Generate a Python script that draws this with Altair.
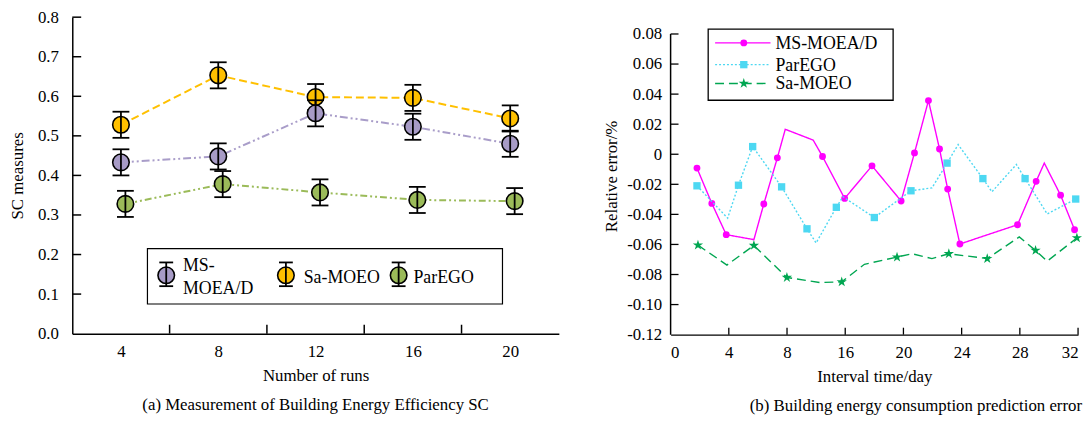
import altair as alt
import pandas as pd

FONT = "Liberation Serif"
FS = 17
LFS = 17

# ---------------- Panel (a) data ----------------
runs = [4, 8, 12, 16, 20]
names_a = ["MS-MOEA/D", "Sa-MOEO", "ParEGO"]
ms_sc = [0.433, 0.448, 0.557, 0.523, 0.480]
sa_sc = [0.528, 0.653, 0.598, 0.596, 0.544]
par_sc = [0.328, 0.378, 0.357, 0.338, 0.335]
ms_err = [0.033, 0.033, 0.033, 0.033, 0.033]
sa_err = [0.033, 0.033, 0.033, 0.033, 0.033]
par_err = [0.033, 0.033, 0.033, 0.033, 0.033]
y_ticks_a = [0.0, 0.1, 0.2, 0.3, 0.4, 0.5, 0.6, 0.7, 0.8]
x_minor_a = [6, 10, 14, 18]

# ---------------- Panel (b) data ----------------
x_labels_b = ["0", "4", "8", "16", "20", "24", "28", "32"]
ms_x = [0.453, 0.708, 0.956, 1.431, 1.601, 1.834, 1.97, 2.45, 2.61, 2.99, 3.46, 3.96,
        4.19, 4.43, 4.62, 4.76, 4.97, 5.96, 6.28, 6.42, 6.70, 6.94]
ms_y = [-0.0092, -0.0327, -0.0535, -0.0568, -0.0331, -0.0024, 0.0166, 0.0094, -0.0015,
        -0.0294, -0.0077, -0.0311, 0.0009, 0.0357, 0.0035, -0.0232, -0.0597, -0.0469,
        -0.018, -0.0059, -0.0272, -0.0502]
ms_mk = [1, 1, 1, 0, 1, 1, 0, 0, 1, 1, 1, 1, 1, 1, 1, 1, 1, 1, 1, 0, 1, 1]
par_x = [0.453, 0.98, 1.166, 1.41, 1.907, 2.343, 2.50, 2.847, 2.96, 3.50, 4.13, 4.49,
         4.75, 4.94, 5.365, 5.52, 5.94, 6.09, 6.47, 6.96]
par_y = [-0.021, -0.0425, -0.0206, 0.0051, -0.0217, -0.0496, -0.059, -0.0353, -0.0283,
         -0.0421, -0.0243, -0.0224, -0.0059, 0.0064, -0.0162, -0.025, -0.0068, -0.0162,
         -0.0397, -0.0298]
par_mk = [1, 0, 1, 1, 1, 1, 0, 1, 0, 1, 1, 0, 1, 0, 1, 0, 0, 1, 0, 1]
sa_x = [0.47, 0.968, 1.431, 1.998, 2.56, 2.94, 3.33, 3.89, 4.15, 4.49, 4.78, 5.44,
        5.99, 6.27, 6.47, 6.98]
sa_y = [-0.0605, -0.0737, -0.0607, -0.082, -0.0853, -0.0849, -0.0732, -0.0684, -0.0662,
        -0.0694, -0.0662, -0.0694, -0.055, -0.064, -0.0711, -0.0557]
sa_mk = [1, 0, 1, 1, 0, 1, 0, 1, 0, 0, 1, 1, 0, 1, 0, 1]
names_b = ["MS-MOEA/D", "ParEGO", "Sa-MOEO"]
y_ticks_b = [-0.12, -0.10, -0.08, -0.06, -0.04, -0.02, 0, 0.02, 0.04, 0.06, 0.08]

one = pd.DataFrame({"d": [0]})

# ================= Panel (a) =================
WA, HA = 492, 320
xs_a = alt.Scale(domain=[2, 22], nice=False, zero=False)
ys_a = alt.Scale(domain=[0, 0.8], nice=False)
xa = alt.Axis(values=runs, ticks=False, grid=False, labelPadding=10, labelOverlap=False,
              labelFont=FONT, labelFontSize=LFS, labelColor="black",
              domainColor="black", domainWidth=1.5, title="Number of runs", titlePadding=8)
ya = alt.Axis(values=y_ticks_a, format=".1f", ticks=False, grid=False, labelPadding=14,
              labelFont=FONT, labelFontSize=LFS, labelColor="black",
              labelOverlap=False, domainColor="black", domainWidth=1.5, title="SC measures",
              titlePadding=11)


def XA(f):
    return alt.X(f, scale=xs_a, axis=xa)


def YA(f):
    return alt.Y(f, scale=ys_a, axis=ya)


series_a = [
    # name, values, errors, line colour, fill colour, dash, x offset
    ("Sa-MOEO", sa_sc, sa_err, "#FFC000", "#FFC000", [8, 4], 0),
    ("MS-MOEA/D", ms_sc, ms_err, "#A99DC9", "#A79BC6", [8, 3, 2, 3, 2, 3], 0),
    ("ParEGO", par_sc, par_err, "#9BBB59", "#9BBB59", [7, 3, 2, 3, 2, 3], 4.5),
]

lines_a, marks_a = [], []
for name, vals, errs, lc, fc, dash, off in series_a:
    df = pd.DataFrame({"run": runs, "sc": vals,
                       "lo": [v - e for v, e in zip(vals, errs)],
                       "hi": [v + e for v, e in zip(vals, errs)]})
    base = alt.Chart(df)
    lines_a.append(base.mark_line(color=lc, strokeDash=dash, strokeWidth=2).encode(
        x=XA("run:Q"), y=YA("sc:Q"), xOffset=alt.value(off)))
    marks_a.append(base.mark_circle(size=280, color=fc, opacity=1, stroke="black", strokeWidth=1.6).encode(
        x=XA("run:Q"), y=YA("sc:Q"), xOffset=alt.value(off)))
    marks_a.append(base.mark_rule(color="black", strokeWidth=1.8).encode(
        x=XA("run:Q"), y=YA("lo:Q"), y2="hi:Q", xOffset=alt.value(off)))
    for fld in ("lo", "hi"):
        marks_a.append(base.mark_tick(orient="horizontal", color="black", size=17, thickness=1.8, opacity=1).encode(
            x=XA("run:Q"), y=YA(fld + ":Q"), xOffset=alt.value(off)))

ytick_a = alt.Chart(pd.DataFrame({"v": y_ticks_a[1:]})).mark_rule(color="black", strokeWidth=1.5).encode(
    y=YA("v:Q"), x=alt.value(0), x2=alt.value(9))
xtick_a = alt.Chart(pd.DataFrame({"v": x_minor_a})).mark_rule(color="black", strokeWidth=1.5).encode(
    x=XA("v:Q"), y=alt.value(HA), y2=alt.value(HA - 9))

# legend (a)
leg_a = [alt.Chart(one).mark_rect(fill="white", stroke="black", strokeWidth=1.2).encode(
    x=alt.value(76), x2=alt.value(435), y=alt.value(234), y2=alt.value(290))]
leg_cols = {"MS-MOEA/D": "#A79BC6", "Sa-MOEO": "#FFC000", "ParEGO": "#9BBB59"}
leg_sym_x = [95, 216, 330]
leg_txt_x = [112, 234, 345]
leg_txt = ["MS-\nMOEA/D", "Sa-MOEO", "ParEGO"]
leg_txt_y = [252, 264, 264]
for nm, sx, tx, tt, ty in zip(names_a, leg_sym_x, leg_txt_x, leg_txt, leg_txt_y):
    leg_a.append(alt.Chart(one).mark_circle(size=280, color=leg_cols[nm], opacity=1, stroke="black",
                                            strokeWidth=1.6).encode(x=alt.value(sx), y=alt.value(261)))
    leg_a.append(alt.Chart(one).mark_rule(color="black", strokeWidth=1.8).encode(
        x=alt.value(sx), y=alt.value(248), y2=alt.value(272)))
    for cy in (248, 272):
        leg_a.append(alt.Chart(one).mark_rule(color="black", strokeWidth=1.8).encode(
            x=alt.value(sx - 7), x2=alt.value(sx + 7), y=alt.value(cy)))
    leg_a.append(alt.Chart(one).mark_text(align="left", baseline="middle", font=FONT, fontSize=FS + 1,
                                          lineBreak="\n", lineHeight=23, color="black").encode(
        x=alt.value(tx), y=alt.value(ty), text=alt.value(tt)))

chart_a = alt.layer(*lines_a, *marks_a, ytick_a, xtick_a, *leg_a).properties(
    width=WA, height=HA,
    title=alt.TitleParams("(a) Measurement of Building Energy Efficiency SC", orient="bottom",
                          anchor="middle", font=FONT, fontSize=FS, fontWeight="normal",
                          offset=14, color="black"))

# ================= Panel (b) =================
WB, HB = 412, 321
ymax_b = 0.08 + 17 / 1520
xs_b = alt.Scale(domain=[0, 7], nice=False)
ys_b = alt.Scale(domain=[-0.12, ymax_b], nice=False, zero=False)
lab_expr = "[" + ",".join("'%s'" % l for l in x_labels_b) + "][datum.value]"
xb = alt.Axis(values=list(range(8)), labelExpr=lab_expr, ticks=False, grid=False, labelPadding=10,
              labelFont=FONT, labelFontSize=LFS, labelColor="black",
              labelOverlap=False, domainColor="black", domainWidth=1.5, title="Interval time/day",
              titlePadding=8)
yb = alt.Axis(values=y_ticks_b, domain=False, ticks=False, grid=False, labelOverlap=False,
              labelFont=FONT, labelFontSize=LFS, labelColor="black",
              labelExpr="datum.value == 0 ? '0' : (datum.value < 0 ? '-' : '') + format(abs(datum.value), '.2f')",
              labelPadding=9, title="Relative error/%", titlePadding=6)


def XB(f):
    return alt.X(f, scale=xs_b, axis=xb)


def YB(f):
    return alt.Y(f, scale=ys_b, axis=yb)


STAR = "M0,-1L0.2245,-0.309L0.951,-0.309L0.363,0.118L0.588,0.809L0,0.382L-0.588,0.809L-0.363,0.118L-0.951,-0.309L-0.2245,-0.309Z"
series_b = [
    ("MS-MOEA/D", ms_x, ms_y, ms_mk, "#FF00FF", [1, 0], "circle", 48),
    ("ParEGO", par_x, par_y, par_mk, "#4DD8F2", [2, 2], "square", 55),
    ("Sa-MOEO", sa_x, sa_y, sa_mk, "#00A651", [9, 5], STAR, 120),
]
layers_b = []
for name, xv, yv, mk, col, dash, shp, sz in series_b:
    df = pd.DataFrame({"t": xv, "err": yv, "mk": mk})
    base = alt.Chart(df)
    layers_b.append(base.mark_line(color=col, strokeWidth=1.4, strokeDash=dash).encode(
        x=XB("t:Q"), y=YB("err:Q")))
    layers_b.append(base.transform_filter("datum.mk == 1").mark_point(
        shape=shp, filled=True, color=col, size=sz, opacity=1).encode(x=XB("t:Q"), y=YB("err:Q")))

yaxis_line_b = alt.Chart(one).mark_rule(color="black", strokeWidth=1.5).encode(
    x=alt.value(0), y=alt.datum(y_ticks_b[0], scale=ys_b, axis=yb), y2=alt.datum(y_ticks_b[-1]))
ytick_b = alt.Chart(pd.DataFrame({"v": y_ticks_b[1:]})).mark_rule(color="black", strokeWidth=1.3).encode(
    y=YB("v:Q"), x=alt.value(0), x2=alt.value(8))
xtick_b = alt.Chart(pd.DataFrame({"v": list(range(1, 8))})).mark_rule(color="black", strokeWidth=1.3).encode(
    x=XB("v:Q"), y=alt.value(HB), y2=alt.value(HB - 7))

leg_b = [alt.Chart(one).mark_rect(fill="white", stroke="black", strokeWidth=1.3).encode(
    x=alt.value(38), x2=alt.value(225), y=alt.value(12), y2=alt.value(84))]
row_y = [26, 48, 67]
for (name, xv, yv, mk, col, dash, shp, sz), ry in zip(series_b, row_y):
    leg_b.append(alt.Chart(one).mark_rule(color=col, strokeWidth=1.4, strokeDash=dash).encode(
        x=alt.value(45), x2=alt.value(101), y=alt.value(ry)))
    leg_b.append(alt.Chart(one).mark_point(shape=shp, filled=True, color=col, size=sz, opacity=1).encode(
        x=alt.value(74), y=alt.value(ry)))
    leg_b.append(alt.Chart(one).mark_text(align="left", baseline="middle", font=FONT, fontSize=FS + 1,
                                          color="black").encode(
        x=alt.value(106), y=alt.value(ry + 1), text=alt.value(name)))

chart_b = alt.layer(*layers_b, yaxis_line_b, ytick_b, xtick_b, *leg_b).properties(
    width=WB, height=HB,
    title=alt.TitleParams("(b) Building energy consumption prediction error", orient="bottom",
                          anchor="end", font=FONT, fontSize=FS, fontWeight="normal",
                          offset=14, color="black"))

chart = alt.hconcat(chart_a, chart_b, spacing=44).properties(
    padding={"left": 0, "top": -2, "right": 0, "bottom": 0}
).configure_view(strokeWidth=0).configure_axis(
    labelFont=FONT, labelFontSize=LFS, labelColor="black", labelOverlap=False,
    titleFont=FONT, titleFontSize=FS, titleFontWeight="normal", titleColor="black"
)

chart.save("out.html", embed_options={"renderer": "svg", "actions": False})
